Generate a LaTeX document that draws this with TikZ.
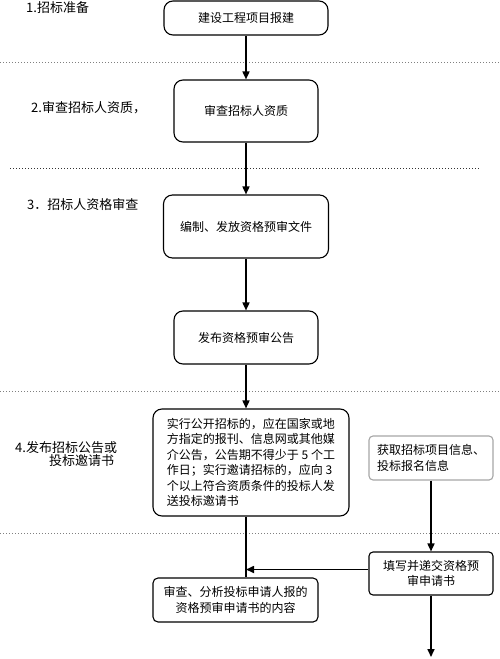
\documentclass[tikz,border=0pt]{standalone}
\usepackage{fontspec}
\newfontfamily\cjk{Noto Sans CJK SC}
\usetikzlibrary{arrows.meta}
\begin{document}
\begin{tikzpicture}[x=1pt, y=-1pt,
    stage/.style={draw, rounded corners=9pt, line width=1.1pt, align=center, inner sep=0pt,
        font=\cjk\fontsize{12}{15.5}\selectfont},
    smallbox/.style={stage, rounded corners=4pt},
    phase/.style={anchor=west, inner sep=0pt, font=\cjk\fontsize{13}{13}\selectfont},
    sep/.style={gray, dotted, line width=1pt},
    flow/.style={-{Triangle[length=8pt,width=7pt]}, line width=1.6pt}]
    \useasboundingbox (0,0) rectangle (500,659);

    \node[phase] (ph1) at (26,7.5) {1.招标准备};
    \node[phase] (ph2) at (31,108) {2.审查招标人资质，};
    \node[phase] (ph3) at (27,205) {3．招标人资格审查};
    \node[phase, align=left] (ph4) at (15,454) {4.发布招标公告或\\\hspace*{34pt}投标邀请书};

    \draw[sep] (0,62) -- (500,62);
    \draw[sep, black!80] (10,168) -- (480,168);
    \draw[sep] (0,391) -- (500,391);
    \draw[sep] (0,533) -- (500,533);

    \node[stage, minimum width=164pt, minimum height=34pt] (report) at (246,18) {建设工程项目报建};
    \node[stage, minimum width=144pt, minimum height=62pt] (check) at (246,111) {审查招标人资质};
    \node[stage, minimum width=165pt, minimum height=63pt] (prep) at (246,226.5) {编制、发放资格预审文件};
    \node[stage, minimum width=144pt, minimum height=53pt] (notice) at (246,337.5) {发布资格预审公告};
    \node[stage, align=left, minimum width=196pt, minimum height=107pt] (publish) at (251,462.5)
        {实行公开招标的，应在国家或地\\方指定的报刊、信息网或其他媒\\介公告，公告期不得少于 5 个工\\作日；实行邀请招标的，应向 3\\个以上符合资质条件的投标人发\\送投标邀请书};
    \node[smallbox, draw=gray!70, align=left, minimum width=124pt, minimum height=44pt] (obtain) at (431,458)
        {获取招标项目信息、\\投标报名信息};
    \node[smallbox, minimum width=124pt, minimum height=43pt] (submit) at (431,573.5) {填写并递交资格预\\审申请书};
    \node[smallbox, rounded corners=5pt, minimum width=165pt, minimum height=44pt] (review) at (235.5,600)
        {审查、分析投标申请人报的\\资格预审申请书的内容};
    \coordinate (next) at (431,657);

    \draw[flow] (report) -- (check);
    \draw[flow] (check) -- (prep);
    \draw[flow] (prep) -- (notice);
    \draw[flow] (notice.south) -- (notice.south |- publish.north);
    \draw[line width=1.6pt] (notice.south |- publish.south) -- (notice.south |- review.north);
    \draw[flow] (obtain) -- (submit);
    \draw[flow] ([yshift=4pt]submit.west) -- ([yshift=4pt]submit.west -| notice.south);
    \draw[flow] (submit) -- (next);
\end{tikzpicture}
\end{document}
